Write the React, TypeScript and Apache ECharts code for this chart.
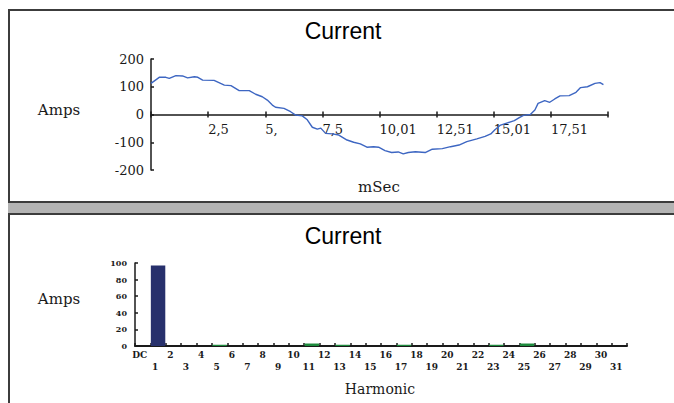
import React, { useEffect, useRef } from 'react';
import * as echarts from 'echarts';

// ---- Waveform (top chart) ----
const timeMs = [
  0, 0.36, 0.65, 0.8, 1.09, 1.38, 1.6, 1.9, 2.05, 2.26, 2.76, 3.21, 3.5, 3.86, 4.3, 4.58, 4.87, 5.09,
  5.31, 5.45, 5.82, 6.11, 6.33, 6.62, 6.84, 7.06, 7.28, 7.43, 7.64, 7.93, 8.22, 8.58, 8.87, 9.16,
  9.45, 9.74, 9.96, 10.24, 10.53, 10.82, 11.04, 11.26, 11.57, 12.0, 12.31, 12.75, 13.11, 13.48,
  13.82, 14.26, 14.62, 14.87, 15.05, 15.3, 15.6, 15.9, 16.1, 16.3, 16.6, 16.8, 16.94, 17.23, 17.45,
  17.67, 17.9, 18.3, 18.6, 18.8, 19.1, 19.43, 19.65, 19.8,
];
const amps = [
  112, 134, 134, 130, 140, 139, 132, 136, 134, 124, 123, 106, 104, 86, 86, 73, 64, 52,
  34, 26, 22, 10, -2, -5, -19, -46, -53, -49, -68, -70, -74, -92, -100, -106,
  -118, -116, -118, -130, -137, -135, -142, -137, -134, -137, -125, -123, -116, -110,
  -98, -88, -79, -70, -55, -38, -30, -22, -12, -3, 0, 16, 40, 50, 44,
  56, 67, 68, 80, 97, 100, 112, 115, 108,
];
const timeTickValues = [0, 2.5, 5, 7.5, 10, 12.5, 15, 17.5, 20];
const timeTickLabels = ['', '2,5', '5,', '7,5', '10,01', '12,51', '15,01', '17,51', ''];

// ---- Harmonics (bottom chart) ----
const harmonicCategories = [
  'DC', '1', '2', '3', '4', '5', '6', '7', '8', '9', '10', '11', '12', '13', '14', '15',
  '16', '17', '18', '19', '20', '21', '22', '23', '24', '25', '26', '27', '28', '29', '30', '31',
];
const harmonicAmps = [
  0, 97, 0, 0, 0, 1.5, 0, 0, 0, 0, 0, 3, 0, 1.5, 0, 0,
  0, 1.5, 0, 0, 0, 0, 0, 1.5, 0, 3, 0, 0, 0, 0, 0, 0,
];

const serif = 'DejaVu Serif';
const dark = '#1a1a1a';

export default function App() {
  const ref = useRef<HTMLDivElement>(null);
  useEffect(() => {
    if (!ref.current) return;
    const chart = echarts.init(ref.current, undefined, { renderer: 'svg' });
    const lineData = timeMs.map((t, i) => [t, amps[i]]);
    const option: any = {
      animation: false,
      backgroundColor: '#ffffff',
      graphic: [
        { type: 'rect', z: -10, shape: { x: 9, y: 10, width: 700, height: 192 }, style: { fill: '#fff', stroke: '#3c3c3c', lineWidth: 2 } },
        { type: 'rect', z: -10, shape: { x: 8, y: 203, width: 700, height: 10 }, style: { fill: '#b4b4b4' } },
        { type: 'rect', z: -10, shape: { x: 9, y: 214, width: 700, height: 200 }, style: { fill: '#fff', stroke: '#3c3c3c', lineWidth: 2 } },
        { type: 'text', x: 343, y: 31, style: { text: 'Current', font: '23px "Liberation Sans"', fill: '#000', textAlign: 'center', textVerticalAlign: 'middle' } },
        { type: 'text', x: 343, y: 236, style: { text: 'Current', font: '23px "Liberation Sans"', fill: '#000', textAlign: 'center', textVerticalAlign: 'middle' } },
        { type: 'text', x: 59, y: 110, style: { text: 'Amps', font: `15px "${serif}"`, fill: dark, textAlign: 'center', textVerticalAlign: 'middle' } },
        { type: 'text', x: 379, y: 187, style: { text: 'mSec', font: `15px "${serif}"`, fill: dark, textAlign: 'center', textVerticalAlign: 'middle' } },
        { type: 'text', x: 59, y: 299, style: { text: 'Amps', font: `15px "${serif}"`, fill: dark, textAlign: 'center', textVerticalAlign: 'middle' } },
        { type: 'text', x: 380, y: 389, style: { text: 'Harmonic', font: `14px "${serif}"`, fill: dark, textAlign: 'center', textVerticalAlign: 'middle' } },
      ],
      grid: [
        { left: 151, top: 59, width: 457, height: 111 },
        { left: 135, top: 263, width: 492, height: 83 },
        // upper half of the waveform plot: its bottom edge is the zero line
        { left: 151, top: 59, width: 457, height: 55.5 },
      ],
      xAxis: [
        {
          type: 'value', gridIndex: 0, min: 0, max: 20, interval: 2.5,
          axisLine: { show: false, onZero: true },
          axisTick: { show: true, inside: true, length: 3, lineStyle: { color: dark, width: 1.5 } },
          splitLine: { show: false },
          axisLabel: { show: false },
        },
        {
          type: 'category', gridIndex: 1, data: harmonicCategories,
          axisLine: { lineStyle: { color: dark, width: 2 } },
          axisTick: { show: true, inside: true, length: 3, lineStyle: { color: dark, width: 1.5 } },
          axisLabel: {
            interval: 0, margin: 3, color: dark, fontFamily: serif, fontSize: 9, fontWeight: 'bold', lineHeight: 12,
            padding: [0, 6, 0, 0],
            formatter: (v: string, i: number) => (i % 2 === 0 ? v : '\n' + v),
          },
        },
        {
          type: 'value', gridIndex: 2, min: 0, max: 20, interval: 2.5, position: 'bottom',
          axisLine: { show: true, onZero: false, lineStyle: { color: dark, width: 1.5 } },
          axisTick: { show: true, length: 3, lineStyle: { color: dark, width: 1.5 } },
          splitLine: { show: false },
          axisLabel: {
            margin: 8, align: 'left', color: dark, fontFamily: serif, fontSize: 13,
            formatter: (v: number) => {
              const i = timeTickValues.findIndex((t) => Math.abs(t - v) < 1e-6);
              return i >= 0 ? timeTickLabels[i] : '';
            },
          },
        },
      ],
      yAxis: [
        {
          type: 'value', gridIndex: 0, min: -200, max: 200, interval: 100,
          axisLine: { show: true, onZero: false, lineStyle: { color: dark, width: 1.5 } },
          axisTick: { show: true, inside: true, length: 3, lineStyle: { color: dark, width: 1.5 } },
          splitLine: { show: false },
          axisLabel: { margin: 7, color: dark, fontFamily: serif, fontSize: 13 },
        },
        {
          type: 'value', gridIndex: 1, min: 0, max: 100, interval: 20,
          axisLine: { show: true, lineStyle: { color: dark, width: 1.5 } },
          axisTick: { show: true, inside: true, length: 3, lineStyle: { color: dark, width: 1.5 } },
          splitLine: { show: false },
          axisLabel: { margin: 8, color: dark, fontFamily: serif, fontSize: 8, fontWeight: 'bold' },
        },
        {
          type: 'value', gridIndex: 2, min: 0, max: 200,
          axisLine: { show: false, onZero: false },
          axisTick: { show: false },
          splitLine: { show: false },
          axisLabel: { show: false },
        },
      ],
      series: [
        {
          type: 'line', xAxisIndex: 0, yAxisIndex: 0, data: lineData, showSymbol: false,
          lineStyle: { color: '#3d66c2', width: 1.4 }, z: 3,
        },
        {
          type: 'bar', xAxisIndex: 1, yAxisIndex: 1, data: harmonicAmps, barCategoryGap: '6%',
          itemStyle: { color: (p: any) => (p.dataIndex === 1 ? '#27306c' : '#1d8a3d') },
        },
      ],
    };
    chart.setOption(option);
    return () => chart.dispose();
  }, []);
  return <div ref={ref} style={{ position: 'absolute', left: 0, top: 0, width: 674, height: 403 }} />;
}
